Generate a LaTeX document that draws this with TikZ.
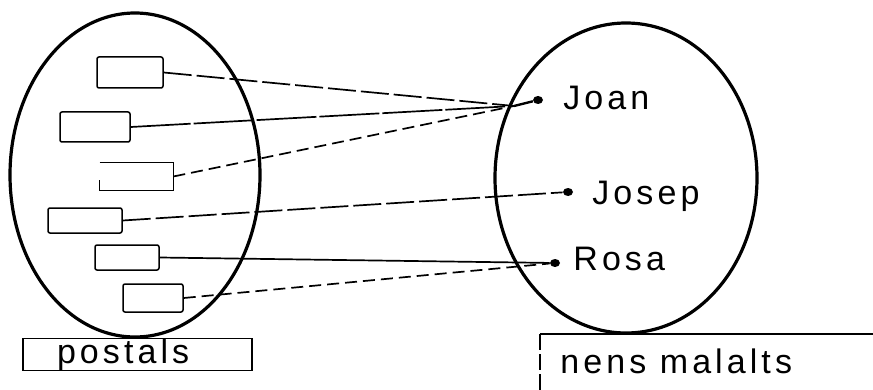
\documentclass[tikz,border=0pt]{standalone}
\usepackage{fontspec}
\setmainfont[LetterSpace=12]{Liberation Sans}
\usetikzlibrary{shapes, positioning}

\begin{document}
\begin{tikzpicture}[x=0.5pt,y=-0.5pt,
				set/.style={ellipse,draw,line width=1.6pt,inner sep=0pt},
				card/.style={draw,line width=0.75pt,rounded corners=1pt,inner sep=0pt},
				tag/.style={font=\fontsize{17}{20}\selectfont,inner sep=0pt,anchor=base west},
				dot/.style={ellipse,fill,inner sep=0pt,minimum width=5pt,minimum height=4pt},
				link/.style={line width=0.85pt},
				longdash/.style={link,dash pattern=on 14pt off 2.5pt},
				shortdash/.style={link,dash pattern=on 6pt off 3pt}]
	\useasboundingbox (0,0) rectangle (873,390);

	% the two sets
	\node[set,minimum width=125pt,minimum height=162pt] (postals) at (135,175) {};
	\node[set,minimum width=131pt,minimum height=155pt] (nens) at (626,178) {};

	% postcards
	\node[card,minimum width=33pt,minimum height=15.5pt] (p1) at (130,72.5) {};
	\node[card,minimum width=35pt,minimum height=15pt] (p2) at (95,127) {};
	\node[minimum width=36.5pt,minimum height=13.5pt,inner sep=0pt] (p3) at (136.5,176.5) {};
	\draw[line width=0.75pt] (p3.north west) -- (p3.north east) -- (p3.south east)
		-- (p3.south west) -- ++(0,-10);
	\node[card,minimum width=37pt,minimum height=12.5pt] (p4) at (85,220.5) {};
	\node[card,minimum width=32pt,minimum height=12.5pt] (p5) at (127,257.5) {};
	\node[card,minimum width=30pt,minimum height=14pt] (p6) at (153,298) {};

	% children
	\node[dot] (joan) at (538,100) {};
	\node[dot] (josep) at (568,192) {};
	\node[dot] (rosa) at (555,263) {};
	\node[tag] (tjoan) at (563,110) {Joan};
	\node[tag] (tjosep) at (592,205) {Josep};
	\node[tag] (trosa) at (573,270) {Rosa};
	\coordinate (jn) at (514,106);

	% who gets which postcard
	\draw[longdash] (p1.east) -- (jn);
	\draw[link,dash pattern=on 30pt off 1.5pt] (p2.east) -- (jn);
	\draw[shortdash] (p3.east) -- (jn);
	\draw[line width=1.2pt] (jn) -- (joan);
	\draw[longdash] (p4.east) -- (josep);
	\draw[link] (p5.east) -- (rosa);
	\draw[shortdash] (p6.east) -- (rosa);

	% names of the sets
	\node[draw,line width=0.75pt,minimum height=15.5pt,text width=80.5pt,inner xsep=17pt,
		inner ysep=0pt,align=left,font=\fontsize{17}{20}\selectfont] (lpostals) at (137.5,354.5) {postals};
	\node[tag] (lnens) at (560,373) {nens malalts};
	\draw[line width=0.75pt] (873,334) -- (540,334);
	\draw[line width=0.75pt,dash pattern=on 8pt off 2pt] (540,334) -- (540,390);
\end{tikzpicture}
\end{document}
